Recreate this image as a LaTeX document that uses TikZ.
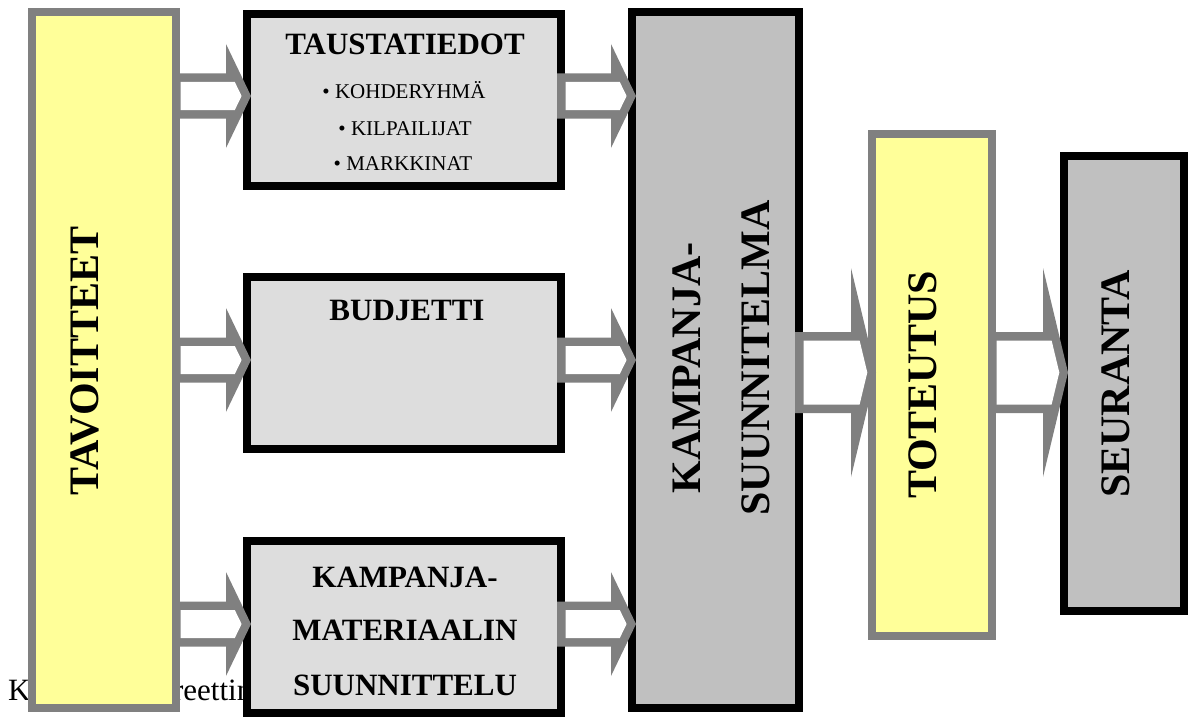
\documentclass[tikz,border=0pt]{standalone}
\usepackage{fontspec}
\setmainfont{Liberation Serif}
\usetikzlibrary{calc}

\definecolor{paleyellow}{HTML}{FFFF99}
\definecolor{edgegray}{HTML}{808080}
\definecolor{lightfill}{HTML}{DDDDDD}
\definecolor{midfill}{HTML}{C0C0C0}

% Hollow block arrow from the inner edge of #1 to the inner edge of #2.
% #3 centre line, #4 shaft half height, #5 head half height,
% #6 head length, #7/#8 inner offsets of the white core.
\newcommand\blockarrow[8]{%
  \fill[edgegray] let \p1=(#1.east), \p2=(#2.west), \p3=(0,#3) in
    (\x1-4pt,\y3+#4pt) -- (\x2+4pt-#6pt,\y3+#4pt) -- (\x2+4pt-#6pt,\y3+#5pt)
    -- (\x2+4pt,\y3) -- (\x2+4pt-#6pt,\y3-#5pt) -- (\x2+4pt-#6pt,\y3-#4pt)
    -- (\x1-4pt,\y3-#4pt) -- cycle;
  \fill[white] let \p1=(#1.east), \p2=(#2.west), \p3=(0,#3) in
    (\x1+4.5pt,\y3+#4pt-8.5pt) -- (\x2+4pt-#6pt+#7pt,\y3+#4pt-8.5pt)
    -- (\x2+4pt-#8pt,\y3) -- (\x2+4pt-#6pt+#7pt,\y3-#4pt+8.5pt)
    -- (\x1+4.5pt,\y3-#4pt+8.5pt) -- cycle;
}
\newcommand\slimarrow[3]{\blockarrow{#1}{#2}{#3}{22.5}{52}{25}{8.8}{9.4}}
\newcommand\widearrow[3]{\blockarrow{#1}{#2}{#3}{40.5}{104.5}{25}{8.6}{8.7}}

\tikzset{
  panel/.style={draw, line width=8pt, outer sep=0pt, inner sep=0pt},
  goalbox/.style={panel, draw=edgegray, fill=paleyellow},
  infobox/.style={panel, draw=black, fill=lightfill},
  planbox/.style={panel, draw=black, fill=midfill},
  bigtitle/.style={font=\bfseries\fontsize{42}{48}\selectfont, rotate=90, anchor=base, inner sep=0pt},
  headtitle/.style={font=\bfseries\fontsize{31}{36}\selectfont, anchor=base, inner sep=0pt},
  bulletline/.style={font=\fontsize{21}{25}\selectfont, anchor=base, inner sep=0pt},
}

\begin{document}
\begin{tikzpicture}[x=1pt,y=-1pt]
\useasboundingbox (0,0) rectangle (1194,717);

% caption line lying underneath the chart
\node[anchor=base west, inner sep=0pt, font=\fontsize{31}{36}\selectfont] (caption) at (8,700) {Kuvio 1. Teoreettinen};

% boxes
\node[goalbox, minimum width=144pt, minimum height=696pt] (tav) at (104,360) {};
\node[infobox, minimum width=314pt, minimum height=172pt] (taus) at (404,100) {};
\node[infobox, minimum width=314pt, minimum height=172pt] (budj) at (404,363) {};
\node[infobox, minimum width=314pt, minimum height=172pt] (mat) at (404,627) {};
\node[planbox, minimum width=167pt, minimum height=696pt] (kamp) at (715.5,360) {};
\node[goalbox, minimum width=120pt, minimum height=502pt] (tot) at (932,385) {};
\node[planbox, minimum width=120pt, minimum height=455pt] (seur) at (1124,383.5) {};

% arrows
\slimarrow{tav}{taus}{96}
\slimarrow{tav}{budj}{360}
\slimarrow{tav}{mat}{624}
\slimarrow{taus}{kamp}{96}
\slimarrow{budj}{kamp}{360}
\slimarrow{mat}{kamp}{624}
\widearrow{kamp}{tot}{372.5}
\widearrow{tot}{seur}{372.5}

% texts
\node[bigtitle] (tavtext) at (98,361) {TAVOITTEET};
\node[headtitle] (taustext) at (405,55) {TAUSTATIEDOT};
\node[bulletline] (item1) at (404,99) {• KOHDERYHMÄ};
\node[bulletline] (item2) at (405,135) {• KILPAILIJAT};
\node[bulletline] (item3) at (403,170) {• MARKKINAT};
\node[headtitle] (budjtext) at (407,320) {BUDJETTI};
\node[headtitle] (mattext1) at (405,587) {KAMPANJA-};
\node[headtitle] (mattext2) at (405,640) {MATERIAALIN};
\node[headtitle] (mattext3) at (405,695) {SUUNNITTELU};
\node[bigtitle] (kamptext1) at (700,368) {KAMPANJA-};
\node[bigtitle] (kamptext2) at (769,358) {SUUNNITELMA};
\node[bigtitle] (tottext) at (936,385) {TOTEUTUS};
\node[bigtitle] (seurtext) at (1129,384) {SEURANTA};
\end{tikzpicture}
\end{document}
